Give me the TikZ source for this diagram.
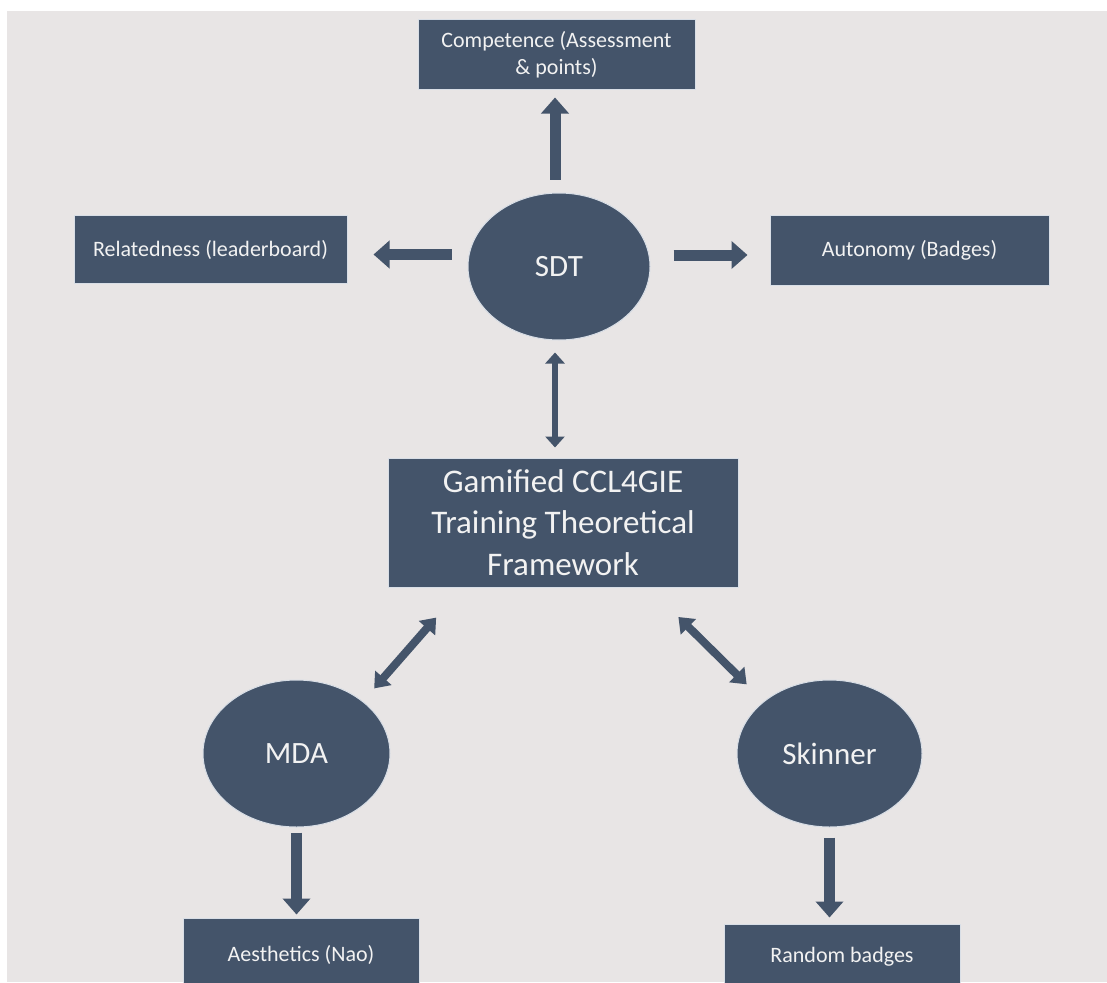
\documentclass[tikz,border=0pt]{standalone}
\usepackage{fontspec}
\setmainfont{Carlito}
\usetikzlibrary{positioning,arrows.meta,calc,shapes.geometric}
\definecolor{page}{HTML}{FFFFFF}
\definecolor{canvas}{HTML}{E8E5E5}
\definecolor{slate}{HTML}{44546A}
\definecolor{halo}{HTML}{D8DEE6}
\definecolor{label}{HTML}{F2F2F2}

\begin{document}
\begin{tikzpicture}[x=1pt,y=-1pt,
  box/.style={draw=halo,line width=1pt,fill=slate,text=label,inner sep=0pt,align=center,font=\fontsize{22}{26.5}\selectfont},
  blob/.style={ellipse,draw=halo,line width=1pt,fill=slate,text=label,inner sep=0pt,font=\fontsize{31}{37}\selectfont},
  fat/.style={slate,line width=11pt,-{Triangle[width=27pt,length=16pt]}},
  thin/.style={slate,line width=6.5pt,{Triangle[width=19pt,length=11pt]}-{Triangle[width=19pt,length=11pt]}},
  slant/.style={slate,line width=8pt,{Triangle[width=21pt,length=14pt]}-{Triangle[width=21pt,length=14pt]}}]
\useasboundingbox (0,0) rectangle (1107,982);
\fill[page] (0,0) rectangle (1107,982);
\fill[canvas] (7,11) rectangle (1107,982);
\clip (0,0) rectangle (1107,982);
% top part
\node[box,minimum width=277pt,minimum height=69pt] (comp) at (556.5,54.5){Competence (Assessment\\\& points)};
\node[blob,minimum width=182pt,minimum height=147pt] (sdt) at (559,266.5){SDT};
\node[box,minimum width=273pt,minimum height=68pt] (rel) at (210.5,249.5){Relatedness (leaderboard)};
\node[box,minimum width=279pt,minimum height=70pt] (auto) at (909.5,250){Autonomy (Badges)};
% framework
\node[box,minimum width=350pt,minimum height=129pt,font=\fontsize{33}{41.5}\selectfont] (frame) at (563,522.5){Gamified CCL4GIE\\Training Theoretical\\Framework};
% bottom part
\node[blob,minimum width=187pt,minimum height=147pt] (mda) at (296.5,753.5){MDA};
\node[blob,minimum width=185pt,minimum height=147pt] (skin) at (829.5,753.5){Skinner};
\node[box,minimum width=236pt,minimum height=74pt] (aes) at (301,955){Aesthetics (Nao)};
\node[box,minimum width=236pt,minimum height=66pt] (rnd) at (842,957){Random badges};
% arrows
\draw[fat,shorten <=13pt,shorten >=8pt] ([xshift=-4pt]sdt.north) -- ([xshift=-4pt]sdt.north |- comp.south);
\draw[fat,shorten <=16pt,shorten >=26pt] ([yshift=-5pt]sdt.west |- rel.east) -- ([yshift=-5pt]rel.east);
\draw[fat,shorten <=23pt,shorten >=22pt] ([yshift=-5pt]sdt.east |- auto.west) -- ([yshift=-5pt]auto.west);
\draw[thin,shorten <=12pt,shorten >=10pt] ([xshift=-4pt]sdt.south) -- ([xshift=-4pt]sdt.south |- frame.north);
\draw[slant,shorten <=40pt,shorten >=17pt] ([xshift=75pt]frame.south west) -- (mda.north east);
\draw[slant,shorten <=42pt,shorten >=24pt] ([xshift=-90pt]frame.south east) -- (skin.north west);
\draw[fat,shorten <=5pt,shorten >=3pt] (mda.south) -- (mda.south |- aes.north);
\draw[fat,shorten <=10pt,shorten >=6pt] (skin.south) -- (skin.south |- rnd.north);
\end{tikzpicture}
\end{document}
